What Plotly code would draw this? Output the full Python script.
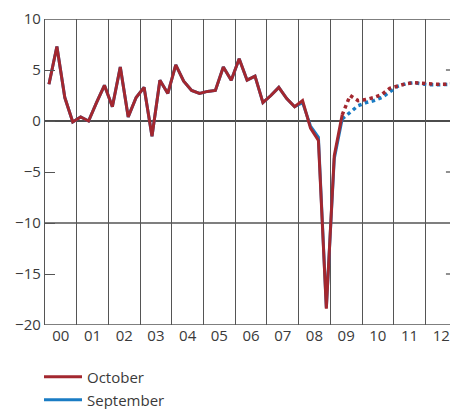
import plotly.graph_objects as go

# Quarterly data 2000Q1 .. 2012Q4
years = list(range(2000, 2013))
quarters = [y + (q - 0.5) / 4 for y in years for q in range(1, 5)]

october = [3.6, 7.3, 2.3, -0.1,
           0.4, 0.0, 1.8, 3.5,
           1.4, 5.3, 0.4, 2.3,
           3.3, -1.5, 4.0, 2.7,
           5.5, 3.9, 3.0, 2.7,
           2.9, 3.0, 5.3, 4.0,
           6.1, 4.0, 4.4, 1.8,
           2.5, 3.3, 2.2, 1.4,
           2.0, -0.7, -1.9, -18.4,
           -3.4, 0.6, 2.5, 2.0,
           2.1, 2.3, 2.6, 3.2,
           3.45, 3.65, 3.75, 3.7,
           3.6, 3.6, 3.6, 3.65]

september = [3.6, 7.3, 2.3, -0.1,
             0.4, 0.0, 1.8, 3.5,
             1.4, 5.3, 0.4, 2.3,
             3.3, -1.5, 4.0, 2.7,
             5.5, 3.9, 3.0, 2.7,
             2.9, 3.0, 5.3, 4.0,
             6.1, 4.0, 4.4, 1.8,
             2.5, 3.3, 2.2, 1.4,
             1.8, -0.5, -1.6, -18.3,
             -3.7, 0.2, 0.8, 1.5,
             1.8, 2.0, 2.3, 2.9,
             3.4, 3.65, 3.75, 3.65,
             3.55, 3.55, 3.55, 3.6]

n_actual = 38  # last solid point is 2009Q2 (index 37)
tick_labels = ["00", "01", "02", "03", "04", "05", "06", "07", "08", "09", "10", "11", "12"]
hgrid = [10, 0, -10, -20]
mirror_ticks = [5, -5, -15]

RED = "#a3272f"
BLUE = "#1a7cc4"
TXT = "#3a3a3a"
FONT = "Open Sans"

W, H = 450, 409

fig = go.Figure()

# September
fig.add_trace(go.Scatter(x=quarters[:n_actual], y=september[:n_actual], mode="lines",
                         line=dict(color=BLUE, width=3), name="September",
                         legend="legend2"))
fig.add_trace(go.Scatter(x=quarters[n_actual - 1:], y=september[n_actual - 1:], mode="lines",
                         line=dict(color=BLUE, width=3.5, dash="dot"), showlegend=False))
# October
fig.add_trace(go.Scatter(x=quarters[:n_actual], y=october[:n_actual], mode="lines",
                         line=dict(color=RED, width=3), name="October",
                         legend="legend"))
fig.add_trace(go.Scatter(x=quarters[n_actual - 1:], y=october[n_actual - 1:], mode="lines",
                         line=dict(color=RED, width=3.5, dash="dot"), showlegend=False))

shapes = []
for g in hgrid:
    shapes.append(dict(type="line", xref="paper", yref="y", x0=0, x1=1, y0=g, y1=g,
                       line=dict(color="#111111" if g == 0 else "#555555", width=1.3),
                       layer="below"))
for t in mirror_ticks:
    shapes.append(dict(type="line", xref="paper", yref="y", x0=0.99, x1=1, y0=t, y1=t,
                       line=dict(color="#555555", width=1.3)))

fig.update_layout(
    width=W, height=H,
    margin=dict(l=45, r=0, t=19, b=H - 325, autoexpand=False),
    paper_bgcolor="white", plot_bgcolor="white",
    font=dict(family=FONT, size=15, color=TXT),
    shapes=shapes,
    xaxis=dict(range=[2000, 2000 + 405 / 31.7], automargin=False,
               tickmode="array", tickvals=[y + 0.5 for y in years], ticktext=tick_labels,
               showgrid=False, zeroline=False, ticks="",
               showline=False,
               minor=dict(tick0=2000, dtick=1, showgrid=True, gridcolor="#555555",
                          gridwidth=1.3, ticks=""),
               tickfont=dict(size=15, color=TXT)),
    yaxis=dict(range=[-20, 10], dtick=5, tick0=0, showgrid=False, zeroline=False,
               automargin=False,
               ticks="inside", ticklen=10, tickcolor="#555555", tickwidth=1.3,
               showline=True, linecolor="#555555", linewidth=1.3,
               tickfont=dict(size=15, color=TXT)),
    legend=dict(xref="container", yref="container", x=39 / W, y=1 - 377 / H,
                xanchor="left", yanchor="middle", itemwidth=38,
                bgcolor="rgba(0,0,0,0)", font=dict(size=15, color=TXT)),
    legend2=dict(xref="container", yref="container", x=39 / W, y=1 - 400 / H,
                 xanchor="left", yanchor="middle", itemwidth=38,
                 bgcolor="rgba(0,0,0,0)", font=dict(size=15, color=TXT)),
)

fig.write_html("out.html", config={"displayModeBar": False},
               post_script="document.body.style.margin='0';document.body.style.overflow='hidden';")
